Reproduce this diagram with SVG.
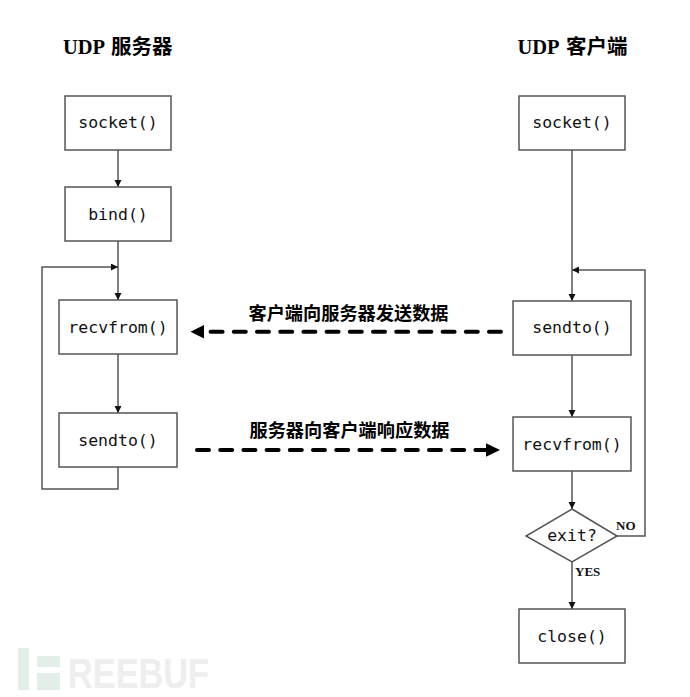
<svg xmlns="http://www.w3.org/2000/svg" width="690" height="697" viewBox="0 0 690 697">
<style>
.box{fill:#fff;stroke:#555;stroke-width:1.5}
.fn{font-family:"DejaVu Sans Mono","Liberation Mono",monospace;font-size:16.5px;fill:#111;text-anchor:middle}
.title{font-family:"Liberation Serif","Noto Sans CJK SC",serif;font-weight:700;font-size:20.500px;fill:#000}
.lbl{font-family:"Liberation Sans","Noto Sans CJK SC",sans-serif;font-weight:700;font-size:18.200px;fill:#000;text-anchor:middle}
.small{font-family:"Liberation Serif",serif;font-weight:700;font-size:13px;fill:#111}
.c{fill:none;stroke:#555;stroke-width:1.5}
.d{fill:none;stroke:#000;stroke-width:4;stroke-linecap:round;stroke-dasharray:12 11.2}
</style>
<defs>
<marker id="a" markerUnits="userSpaceOnUse" markerWidth="8" markerHeight="8" refX="7" refY="3.5" orient="auto"><path d="M0 0L7 3.5L0 7Z" fill="#111"/></marker>
</defs>
<rect width="690" height="697" fill="#fff"/>
<g id="watermark">
<rect x="18" y="648" width="11" height="42" fill="#e2efe9"/>
<rect x="37" y="656" width="23" height="11" fill="#e2efe9"/>
<rect x="37" y="673" width="23" height="17" fill="#e2efe9"/>
<text x="68" y="687.500" font-family="Liberation Sans,sans-serif" font-weight="700" font-size="43" fill="#eeeeee" textLength="141" lengthAdjust="spacingAndGlyphs">REEBUF</text>
</g>
<g id="connectors">
<path class="c" d="M118 150V187" marker-end="url(#a)"/>
<path class="c" d="M118 241V300" marker-end="url(#a)"/>
<path class="c" d="M118 354V413" marker-end="url(#a)"/>
<path class="c" d="M118 467V489H42V267H118" marker-end="url(#a)"/>
<path class="c" d="M572 150V301" marker-end="url(#a)"/>
<path class="c" d="M572 355V417" marker-end="url(#a)"/>
<path class="c" d="M572 471V509" marker-end="url(#a)"/>
<path class="c" d="M572 562V609" marker-end="url(#a)"/>
<path class="c" d="M617 536H645V270H572" marker-end="url(#a)"/>
<path class="d" d="M501 331.700H208"/>
<path d="M190.500 331.700L204 325V338.400Z" fill="#000"/>
<path class="d" d="M197 450H487"/>
<path d="M500 450L486 443.300V456.700Z" fill="#000"/>
</g>
<text class="title" x="63" y="53.500">UDP <tspan x="111">服务器</tspan></text>
<text class="title" x="517.500" y="53.500">UDP <tspan x="566">客户端</tspan></text>
<text class="lbl" x="348.500" y="320">客户端向服务器发送数据</text>
<text class="lbl" x="349.500" y="437">服务器向客户端响应数据</text>
<g id="s-socket"><rect class="box" x="65" y="96" width="106" height="54"/><text class="fn" x="118" y="128">socket()</text></g>
<g id="s-bind"><rect class="box" x="65" y="187" width="106" height="54"/><text class="fn" x="118" y="220">bind()</text></g>
<g id="s-recvfrom"><rect class="box" x="59" y="300" width="118" height="54"/><text class="fn" x="118" y="333">recvfrom()</text></g>
<g id="s-sendto"><rect class="box" x="59" y="413" width="118" height="54"/><text class="fn" x="118" y="446">sendto()</text></g>
<g id="c-socket"><rect class="box" x="519" y="96" width="106" height="54"/><text class="fn" x="572" y="128">socket()</text></g>
<g id="c-sendto"><rect class="box" x="513" y="301" width="118" height="54"/><text class="fn" x="572" y="333">sendto()</text></g>
<g id="c-recvfrom"><rect class="box" x="513" y="417" width="118" height="54"/><text class="fn" x="572" y="450">recvfrom()</text></g>
<g id="c-exit"><path class="box" d="M572 509L617 536L572 562L526 536Z"/><text class="fn" x="572" y="541">exit?</text></g>
<g id="c-close"><rect class="box" x="519" y="609" width="106" height="54"/><text class="fn" x="572" y="642">close()</text></g>
<text class="small" x="616" y="530">NO</text>
<text class="small" x="575" y="576">YES</text>
</svg>
